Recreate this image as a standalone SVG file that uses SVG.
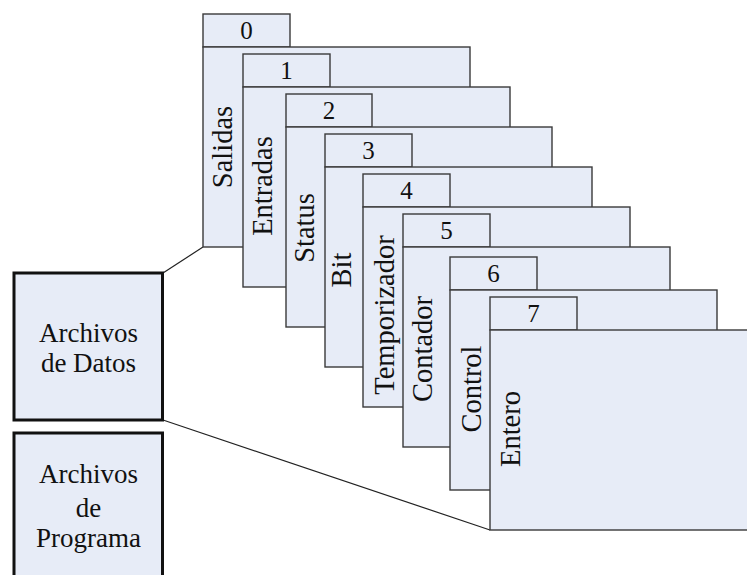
<svg xmlns="http://www.w3.org/2000/svg" width="747" height="575" viewBox="0 0 747 575">
<style>
.sh{fill:#E7ECF7;stroke:#3a3a3a;stroke-width:1.4}
.bx{fill:#E7ECF7;stroke:#111;stroke-width:3}
.ln{stroke:#222;stroke-width:1.2;fill:none}
text{fill:#111;font-family:'Liberation Serif','Times New Roman',serif}
.num{font-size:25px;text-anchor:middle}
.lab{font-size:28.5px;text-anchor:middle}
.box{font-size:27px;text-anchor:middle}
</style>
<rect width="747" height="575" fill="#fff"/>
<g id="connectors">
<line class="ln" x1="163" y1="273" x2="203" y2="247"/>
<line class="ln" x1="163" y1="420" x2="490" y2="530"/>
</g>
<g id="datos">
<rect class="bx" x="14" y="273" width="148.5" height="147"/>
<text class="box" x="88.5" y="342">Archivos</text>
<text class="box" x="88.5" y="372">de Datos</text>
</g>
<g id="programa">
<rect class="bx" x="14" y="433" width="148.5" height="160"/>
<text class="box" x="88.5" y="483">Archivos</text>
<text class="box" x="88.5" y="517">de</text>
<text class="box" x="88.5" y="547">Programa</text>
</g>
<g id="sheet0">
<rect class="sh" x="203" y="14" width="87" height="33"/>
<rect class="sh" x="203" y="47" width="267" height="200"/>
<text class="num" x="246.5" y="38.5">0</text>
<text class="lab" transform="translate(232,147) rotate(-90)">Salidas</text>
</g>
<g id="sheet1">
<rect class="sh" x="243" y="54" width="87" height="33"/>
<rect class="sh" x="243" y="87" width="267" height="200"/>
<text class="num" x="286.5" y="78.5">1</text>
<text class="lab" transform="translate(272,186) rotate(-90)">Entradas</text>
</g>
<g id="sheet2">
<rect class="sh" x="286" y="94" width="86" height="33"/>
<rect class="sh" x="286" y="127" width="266" height="200"/>
<text class="num" x="329" y="118.5">2</text>
<text class="lab" transform="translate(314,228) rotate(-90)">Status</text>
</g>
<g id="sheet3">
<rect class="sh" x="325" y="134" width="87" height="33"/>
<rect class="sh" x="325" y="167" width="267" height="200"/>
<text class="num" x="368.5" y="158.5">3</text>
<text class="lab" transform="translate(351,270) rotate(-90)">Bit</text>
</g>
<g id="sheet4">
<rect class="sh" x="363" y="174" width="87" height="33"/>
<rect class="sh" x="363" y="207" width="267" height="200"/>
<text class="num" x="406.5" y="198.5">4</text>
<text class="lab" transform="translate(394,315) rotate(-90)">Temporizador</text>
</g>
<g id="sheet5">
<rect class="sh" x="403" y="214" width="87" height="33"/>
<rect class="sh" x="403" y="247" width="267" height="200"/>
<text class="num" x="446.5" y="238.5">5</text>
<text class="lab" transform="translate(432,349) rotate(-90)">Contador</text>
</g>
<g id="sheet6">
<rect class="sh" x="450" y="257" width="87" height="33"/>
<rect class="sh" x="450" y="290" width="267" height="200"/>
<text class="num" x="493.5" y="281.5">6</text>
<text class="lab" transform="translate(481,389) rotate(-90)">Control</text>
</g>
<g id="sheet7">
<rect class="sh" x="490" y="297" width="87" height="33"/>
<rect class="sh" x="490" y="330" width="267" height="200"/>
<text class="num" x="533.5" y="321.5">7</text>
<text class="lab" transform="translate(520,429) rotate(-90)">Entero</text>
</g>
</svg>
